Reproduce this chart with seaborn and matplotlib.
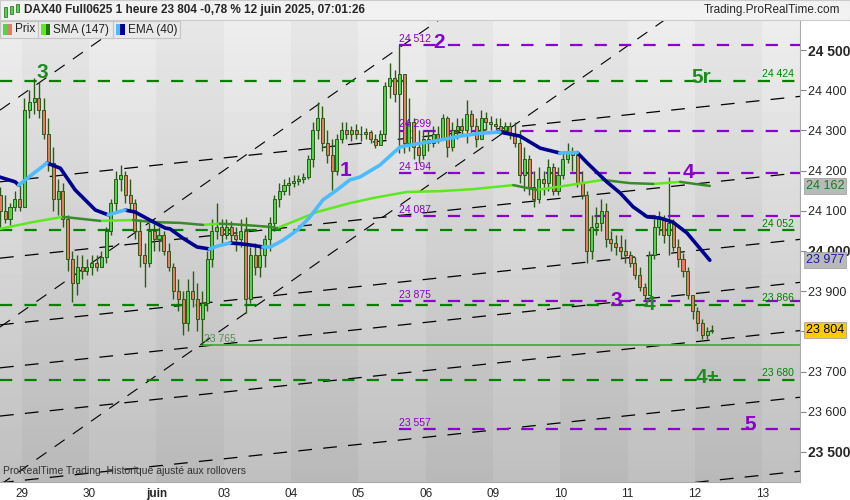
import numpy as np
import pandas as pd
import matplotlib
matplotlib.use("Agg")
import matplotlib.pyplot as plt
import seaborn as sns
from matplotlib.patches import Rectangle

# --- donnees (bougies 1 heure, 14 par seance) ---
BARS = 14
day_labels = ["29", "30", "juin", "03", "04", "05", "06", "09", "10", "11", "12", "13"]

pre_close = [24100, 24080, 24110, 24130, 24110]
pre_high = [24160, 24140, 24120, 24150, 24165]
pre_low = [24060, 24070, 24065, 24100, 24100]

closes = [
    [24350, 24370, 24380, 24350, 24290, 24220, 24130, 24150, 24080, 23980, 23920, 23960, 23950, 23960],
    [23970, 23960, 23985, 24050, 24120, 24180, 24190, 24140, 24120, 24050, 23990, 23970, 24050, 24030],
    [24040, 24000, 23960, 23900, 23880, 23820, 23900, 23880, 23830, 23870, 23980, 24050, 24060, 24040],
    [24060, 24040, 24030, 24050, 23880, 23990, 23960, 23990, 24030, 24070, 24130, 24150, 24165, 24170],
    [24175, 24180, 24185, 24230, 24300, 24330, 24270, 24240, 24200, 24280, 24300, 24290, 24300, 24290],
    [24290, 24295, 24280, 24265, 24290, 24410, 24430, 24390, 24440, 24270, 24320, 24260, 24240, 24280],
    [24270, 24290, 24280, 24330, 24260, 24300, 24310, 24300, 24340, 24310, 24280, 24330, 24320, 24315],
    [24310, 24300, 24310, 24290, 24270, 24190, 24230, 24160, 24130, 24180, 24170, 24210, 24150, 24190],
    [24230, 24250, 24240, 24170, 24140, 24000, 24060, 24070, 24100, 24030, 24020, 24010, 24000, 23990],
    [23970, 23940, 23910, 23890, 23990, 24060, 24080, 24040, 24070, 24010, 23980, 23950, 23890, 23850],
    [23820, 23790, 23800, 23804],
]
highs = [
    [24380, 24400, 24430, 24420, 24380, 24330, 24260, 24180, 24170, 24090, 24000, 23990, 23990, 23980],
    [23990, 23990, 24000, 24060, 24130, 24200, 24214, 24200, 24180, 24130, 24080, 24020, 24070, 24070],
    [24060, 24050, 24020, 23970, 23930, 23900, 23930, 23950, 23920, 23900, 24000, 24080, 24120, 24080],
    [24080, 24075, 24060, 24080, 24085, 24010, 24020, 24010, 24040, 24085, 24140, 24170, 24180, 24185],
    [24190, 24190, 24195, 24240, 24320, 24370, 24360, 24300, 24280, 24290, 24320, 24320, 24310, 24315],
    [24310, 24305, 24300, 24290, 24300, 24420, 24467, 24450, 24512, 24440, 24380, 24330, 24300, 24300],
    [24300, 24310, 24310, 24340, 24335, 24320, 24330, 24330, 24376, 24350, 24330, 24350, 24345, 24335],
    [24330, 24330, 24320, 24320, 24320, 24300, 24260, 24240, 24200, 24210, 24200, 24230, 24220, 24210],
    [24250, 24268, 24260, 24250, 24200, 24150, 24090, 24110, 24130, 24120, 24050, 24040, 24040, 24030],
    [24000, 23985, 23960, 23920, 24000, 24080, 24100, 24090, 24184, 24080, 24030, 23995, 23960, 23890],
    [23860, 23830, 23810, 23815],
]
lows = [
    [24110, 24330, 24340, 24330, 24280, 24200, 24100, 24090, 24060, 23950, 23873, 23890, 23930, 23940],
    [23940, 23950, 23960, 23970, 24040, 24100, 24150, 24120, 24100, 24030, 23960, 23910, 23960, 24000],
    [24000, 23990, 23950, 23880, 23850, 23790, 23800, 23860, 23800, 23765, 23850, 23960, 24030, 24020],
    [24030, 24020, 24000, 24010, 23845, 23870, 23940, 23935, 23960, 24000, 24050, 24110, 24140, 24140],
    [24160, 24165, 24170, 24180, 24210, 24280, 24250, 24220, 24152, 24190, 24270, 24280, 24275, 24280],
    [24275, 24280, 24270, 24256, 24265, 24280, 24380, 24370, 24243, 24243, 24250, 24230, 24218, 24230],
    [24250, 24260, 24270, 24280, 24234, 24250, 24280, 24290, 24270, 24290, 24260, 24280, 24300, 24300],
    [24300, 24290, 24290, 24280, 24260, 24170, 24150, 24140, 24110, 24120, 24140, 24150, 24140, 24140],
    [24180, 24220, 24200, 24160, 24130, 23970, 23980, 24040, 24050, 24010, 24000, 23990, 23980, 23970],
    [23960, 23930, 23900, 23878, 23890, 23980, 24040, 24020, 23990, 24000, 23960, 23935, 23880, 23830],
    [23800, 23780, 23780, 23795],
]
first_open = 24140

# moyennes mobiles (position en jours, prix)
ema_x = [-0.33, -0.10, -0.05, 0.37, 0.57, 0.79, 0.94, 1.09, 1.28, 1.53, 1.68, 1.90, 2.13, 2.20, 2.39, 2.60,
         2.79, 2.90, 3.09, 3.24, 3.39, 3.58, 3.69, 3.88, 4.09, 4.28, 4.47, 4.68, 4.87, 5.02, 5.32, 5.51, 5.62,
         5.91, 6.21, 6.51, 6.81, 7.10, 7.40, 7.70, 7.99, 8.25, 8.40, 8.69, 8.89, 9.08, 9.29, 9.48, 9.67, 9.88,
         10.07, 10.22]
ema_y = [24184, 24172, 24164, 24219, 24206, 24152, 24127, 24102, 24090, 24102, 24097, 24077, 24057, 24055,
         24032, 24010, 24005, 24012, 24020, 24018, 24015, 24010, 24010, 24027, 24052, 24085, 24127, 24152,
         24177, 24184, 24214, 24243, 24259, 24268, 24276, 24286, 24293, 24296, 24286, 24256, 24244, 24245,
         24219, 24172, 24144, 24110, 24085, 24082, 24072, 24045, 24007, 23977]
sma_x = [-0.33, 0.16, 0.61, 1.16, 1.65, 1.95, 2.35, 2.69, 2.94, 3.20, 3.69, 3.79, 4.09, 4.38, 4.87, 5.22,
         5.72, 6.21, 6.70, 7.30, 7.65, 8.14, 8.63, 9.03, 9.38, 9.78, 10.22]
sma_y = [24055, 24072, 24085, 24075, 24077, 24072, 24070, 24065, 24068, 24066, 24060, 24057, 24077, 24097,
         24119, 24132, 24147, 24149, 24154, 24164, 24152, 24164, 24177, 24169, 24167, 24172, 24162]

purple_levels = [24512, 24299, 24194, 24087, 23875, 23557]
green_levels = [24424, 24052, 23866, 23680]
support_level = 23765
steep_lines = [24389, 23849, 23456]          # prix au debut du 29
shallow_lines = [24178, 23988, 23822, 23715, 23595, 23429, 23245]
steep_slope = 117.2                          # points par jour
shallow_slope = 17.9

waves = [("3", 0.30, 24445, "green"), ("1", 4.80, 24201, "purple"), ("2", 6.20, 24520, "purple"),
         ("4", 9.90, 24196, "purple"), ("3", 8.83, 23878, "purple"), ("4", 9.33, 23866, "green"),
         ("5r", 10.10, 24433, "green"), ("4+", 10.18, 23684, "green"), ("5", 10.82, 23567, "purple")]

last_price = 23804

PURPLE = "#8a00cc"
GREEN = "#008200"
WAVE_GREEN = "#1f8c1f"

# --- bougies ---
c_all = pre_close + sum(closes, [])
h_all = pre_high + sum(highs, [])
l_all = pre_low + sum(lows, [])
pos = [-1 + (s + 0.5) / BARS for s in range(9, 14)]
for d, day in enumerate(closes):
    pos += [d + (s + 0.5) / BARS for s in range(len(day))]
pos = np.array(pos)
c_all = np.array(c_all, dtype=float)
o_all = np.concatenate([[first_open], c_all[:-1]])
h_all = np.maximum(np.array(h_all, dtype=float), np.maximum(o_all, c_all))
l_all = np.minimum(np.array(l_all, dtype=float), np.minimum(o_all, c_all))

sns.set_style("white")
plt.rcParams["font.family"] = ["Liberation Sans", "DejaVu Sans"]

fig = plt.figure(figsize=(8.5, 5), dpi=100)
fig.patch.set_facecolor("white")
ax = fig.add_axes([0, 18 / 500, 800 / 850, 462 / 500])
x0, x1 = -0.327, 11.56
y0, y1 = 23425, 24575

# fond : bandes par seance avec degrade vertical
n_rows = 60
grad = np.linspace(0.93, 0.75, n_rows)[:, None]
cols = np.arange(-1, 12)
shade = np.where(cols % 2 == 0, -0.025, 0.0)[None, :]
bg = grad + shade
ax.imshow(bg, cmap="gray", vmin=0, vmax=1, aspect="auto", extent=[-1, 12, y0, y1],
          interpolation="nearest", zorder=0)
ax.set_xlim(x0, x1)
ax.set_ylim(y0, y1)

# lignes de tendance
xs = np.array([x0, x1])
for p in steep_lines:
    ax.plot(xs, p + steep_slope * xs, color="black", lw=0.8, ls=(0, (11, 9)), zorder=1)
for p in shallow_lines:
    ax.plot(xs, p + shallow_slope * xs, color="black", lw=0.9, ls=(0, (11, 9)), zorder=1)

# niveaux horizontaux
spike_x = pos[np.argmax(h_all)]
low_x = pos[np.argmin(l_all[:-4])]
for lv in green_levels:
    ax.plot([x0, x1], [lv, lv], color=GREEN, lw=1.6, ls=(0, (5.5, 5.5)), zorder=2)
    ax.annotate(f"{lv:,}".replace(",", " "), (11.0, lv), xytext=(0, 1), textcoords="offset points",
                color=GREEN, fontsize=7.5, ha="left", va="bottom", zorder=6)
for lv in purple_levels:
    ax.plot([spike_x, x1], [lv, lv], color=PURPLE, lw=1.6, ls=(0, (5.5, 5.5)), zorder=2)
    ax.annotate(f"{lv:,}".replace(",", " "), (spike_x, lv), xytext=(0, 1), textcoords="offset points",
                color=PURPLE, fontsize=7.5, ha="left", va="bottom", zorder=6)
ax.plot([low_x, x1], [support_level] * 2, color="#3cb43c", lw=1.3, zorder=2)
ax.annotate(f"{support_level:,}".replace(",", " "), (low_x, support_level), xytext=(1, 1),
            textcoords="offset points", color="#4f8f4f", fontsize=7.5, ha="left", va="bottom", zorder=6)

# bougies
edge = "#2c5a17"
up = c_all >= o_all
ax.vlines(pos, l_all, h_all, color=edge, lw=1.0, zorder=3)
ax.bar(pos, np.maximum(np.abs(c_all - o_all), 2), bottom=np.minimum(o_all, c_all), width=0.045,
       color=np.where(up, "#4cd64c", "#e87a62"), edgecolor=edge, linewidth=0.7, zorder=3)


def trend_runs(xv, yv):
    rows, run, prev = [], 0, None
    for i in range(len(xv) - 1):
        rising = "up" if yv[i + 1] >= yv[i] else "down"
        if prev is not None and rising != prev:
            run += 1
        rows.append((xv[i], yv[i], run, rising))
        rows.append((xv[i + 1], yv[i + 1], run, rising))
        prev = rising
    return pd.DataFrame(rows, columns=["x", "y", "run", "trend"])


sma_df = trend_runs(sma_x, sma_y)
ema_df = trend_runs(ema_x, ema_y)
sns.lineplot(data=sma_df, x="x", y="y", hue="trend", units="run", estimator=None, sort=False,
             palette={"up": "#5ee81e", "down": "#3a8a2a"}, lw=1.8, legend=False, ax=ax, zorder=4)
sns.lineplot(data=ema_df, x="x", y="y", hue="trend", units="run", estimator=None, sort=False,
             palette={"up": "#4cbcff", "down": "#00008f"}, lw=2.6, legend=False, ax=ax, zorder=4)

# etiquettes de vagues
for txt, wx, wy, col in waves:
    ax.text(wx, wy, txt, color=PURPLE if col == "purple" else WAVE_GREEN, fontsize=15,
            fontweight="bold", ha="center", va="center", zorder=6)

# axes
ax.set_xlabel("")
ax.set_ylabel("")
ax.set_xticks(range(len(day_labels)))
ax.set_xticklabels(day_labels, fontsize=8.5)
ax.get_xticklabels()[2].set_fontweight("bold")
ax.tick_params(axis="x", length=3, color="#999999", pad=1)
yt = np.arange(23500, 24501, 100)
ax.yaxis.tick_right()
ax.set_yticks(yt)
# le libelle 23 800 est cache par la pastille du dernier cours
ax.set_yticklabels(["" if abs(v - last_price) < 20 else f"{v:,}".replace(",", " ") for v in yt], fontsize=9)
for lab, v in zip(ax.get_yticklabels(), yt):
    if v % 500 == 0:
        lab.set_fontweight("bold")
        lab.set_fontsize(10)
ax.tick_params(axis="y", right=True, length=4, color="#888888", pad=2)
for side in ["top", "left"]:
    ax.spines[side].set_visible(False)
for side in ["right", "bottom"]:
    ax.spines[side].set_color("#aaaaaa")

# etiquettes de la derniere valeur sur l'axe
badges = [(sma_y[-1], "#1a7a1a", "#b9b9b9"), (ema_y[-1], "#1a1aa8", "#b9b9b9"), (last_price, "black", "#ffcc00")]
for val, tc, fc in badges:
    ax.annotate(f"{val:,}".replace(",", " "), (1.0, val), xycoords=("axes fraction", "data"),
                xytext=(4, 0), textcoords="offset points", fontsize=9, color=tc, va="center", ha="left",
                bbox=dict(boxstyle="square,pad=0.15", fc=fc, ec="#999999", lw=0.5), annotation_clip=False,
                zorder=7)

# en-tete
fig.patches.append(Rectangle((0, 480 / 500), 1, 20 / 500, transform=fig.transFigure,
                             fc="#f2f2f2", ec="#cccccc", lw=0.8, zorder=0))
fig.patches.append(Rectangle((4 / 850, 483 / 500), 3 / 850, 10 / 500, transform=fig.transFigure,
                             fc="#4cd64c", ec=edge, lw=0.5))
fig.patches.append(Rectangle((10 / 850, 486 / 500), 3 / 850, 8 / 500, transform=fig.transFigure,
                             fc="#4cd64c", ec=edge, lw=0.5))
fig.patches.append(Rectangle((16 / 850, 488 / 500), 3 / 850, 8 / 500, transform=fig.transFigure,
                             fc="#4cd64c", ec=edge, lw=0.5))
fig.text(24 / 850, 490 / 500, "DAX40 Full0625 1 heure 23 804 -0,78 % 12 juin 2025, 07:01:26",
         fontsize=8.5, fontweight="bold", va="center", ha="left")
fig.text(840 / 850, 490 / 500, "Trading.ProRealTime.com", fontsize=8.5, va="center", ha="right")

tabs = [("Prix", 0, 38, "#4cd64c", "#e87a62"), ("SMA (147)", 38, 113, "#5ee81e", "#1f7a12"),
        ("EMA (40)", 113, 180, "#4cbcff", "#00008f")]
for name, a, b, c1, c2 in tabs:
    fig.patches.append(Rectangle((a / 850, 462 / 500), (b - a) / 850, 17 / 500, transform=fig.transFigure,
                                 fc="#e9e9e9", ec="#c4c4c4", lw=0.8, zorder=5))
    fig.patches.append(Rectangle(((a + 3) / 850, 465 / 500), 4.5 / 850, 11 / 500, transform=fig.transFigure,
                                 fc=c1, ec="none", zorder=6))
    fig.patches.append(Rectangle(((a + 7.5) / 850, 465 / 500), 4.5 / 850, 11 / 500, transform=fig.transFigure,
                                 fc=c2, ec="none", zorder=6))
    fig.text((a + 15) / 850, 470.5 / 500, name, fontsize=8.5, va="center", ha="left", color="#222222", zorder=7)

fig.text(3 / 850, 24 / 500, "ProRealTime Trading  Historique ajusté aux rollovers", fontsize=7.5,
         color="#333333", va="bottom", ha="left")

fig.savefig("out.png", dpi=100)
